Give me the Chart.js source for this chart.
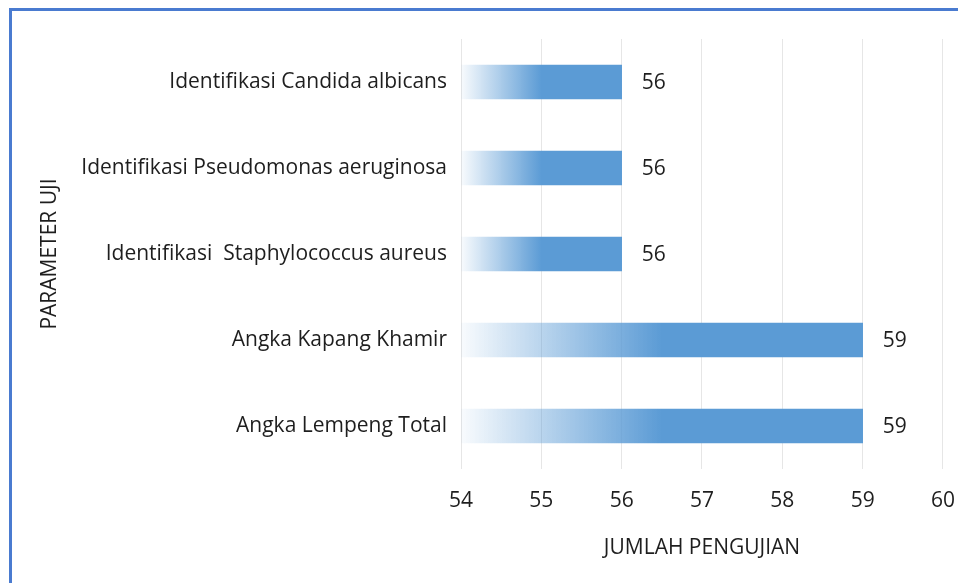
<!DOCTYPE html>
<html>
<head>
<meta charset="utf-8">
<script src="https://cdn.jsdelivr.net/npm/chart.js@4.4.1/dist/chart.umd.min.js"></script>
<style>
  html, body { margin: 0; padding: 0; background: #fff; }
  #wrap { position: relative; width: 958px; height: 583px; overflow: hidden; }
  #frame {
    position: absolute; left: 9px; top: 8px; width: 1000px; height: 700px;
    border: 3px solid #4A7BD0; box-sizing: border-box;
  }
  #chart { position: absolute; left: 0; top: 0; }
</style>
</head>
<body>
<div id="wrap">
  <div id="frame"></div>
  <canvas id="chart" width="974" height="583"></canvas>
</div>
<script>
// ── Data ─────────────────────────────────────────────────────
const categories = [
  'Identifikasi Candida albicans',
  'Identifikasi Pseudomonas aeruginosa',
  'Identifikasi  Staphylococcus aureus',
  'Angka Kapang Khamir',
  'Angka Lempeng Total',
];
const jumlahPengujian = [56, 56, 56, 59, 59];
const xMin = 54;
const xMax = 60;

const FONT = "'Open Sans', sans-serif";
const TEXT = '#1E1E1E';
const BLUE = '#5B9BD5';

// gradient from pale at the axis to solid blue halfway along each bar
function barFill(ctx) {
  const chart = ctx.chart;
  const x = chart.scales.x;
  if (!x || !chart.chartArea) return BLUE;
  const x0 = x.getPixelForValue(xMin);
  const x1 = x.getPixelForValue(ctx.raw);
  const g = chart.ctx.createLinearGradient(x0, 0, x1, 0);
  g.addColorStop(0, 'rgba(91,155,213,0.04)');
  g.addColorStop(0.5, BLUE);
  g.addColorStop(1, BLUE);
  return g;
}

const valueLabels = {
  id: 'valueLabels',
  afterDatasetsDraw(chart) {
    const { ctx } = chart;
    const meta = chart.getDatasetMeta(0);
    ctx.save();
    ctx.font = `21px ${FONT}`;
    ctx.fillStyle = TEXT;
    ctx.textBaseline = 'middle';
    meta.data.forEach((bar, i) => {
      ctx.fillText(String(jumlahPengujian[i]), bar.x + 20, bar.y + 1);
    });
    ctx.restore();
  },
};

new Chart(document.getElementById('chart'), {
  type: 'bar',
  data: {
    labels: categories,
    datasets: [{
      data: jumlahPengujian,
      backgroundColor: barFill,
      borderWidth: 0,
      barThickness: 34,
    }],
  },
  options: {
    indexAxis: 'y',
    responsive: false,
    animation: false,
    layout: { padding: { left: 37, top: 39, right: 6, bottom: 22 } },
    plugins: { legend: { display: false }, tooltip: { enabled: false } },
    scales: {
      x: {
        min: xMin, max: xMax,
        ticks: { stepSize: 1, color: TEXT, font: { family: FONT, size: 21 }, padding: 19 },
        grid: { color: '#E6E6E6', drawTicks: false },
        border: { display: false },
        title: { display: true, text: 'JUMLAH PENGUJIAN', color: TEXT,
                 font: { family: FONT, size: 21 }, padding: { top: 12, bottom: 0 } },
        afterFit(s) { s.height = 92; },
      },
      y: {
        ticks: { color: TEXT, font: { family: FONT, size: 21 }, padding: 14 },
        grid: { display: false, drawTicks: false },
        border: { display: false },
        title: { display: true, text: 'PARAMETER UJI', color: TEXT,
                 font: { family: FONT, size: 21 }, padding: 0 },
        afterFit(s) { s.width = 461 - 37; },
      },
    },
  },
  plugins: [valueLabels],
});
</script>
</body>
</html>
